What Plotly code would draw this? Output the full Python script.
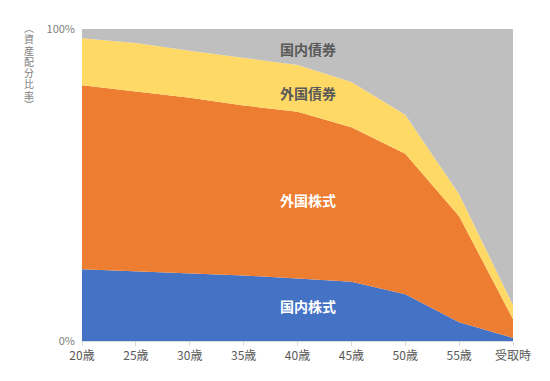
import plotly.graph_objects as go

categories = ["20歳", "25歳", "30歳", "35歳", "40歳", "45歳", "50歳", "55歳", "受取時"]
domestic_stock = [23, 22.3, 21.5, 21, 20, 19, 15, 6, 1]
foreign_stock = [59, 57.7, 56.5, 54.5, 53.5, 49.5, 45, 34, 6]
foreign_bond = [15, 15.5, 15, 15.2, 15, 14.5, 12.5, 7, 4.5]
domestic_bond = [3, 4.5, 7, 9.3, 11.5, 17, 27.5, 53, 88.5]
y_title_chars = ["︵", "資", "産", "配", "分", "比", "率", "︶"]

series = [
    ("国内株式", domestic_stock, "#4472C4"),
    ("外国株式", foreign_stock, "#ED7D31"),
    ("外国債券", foreign_bond, "#FFD966"),
    ("国内債券", domestic_bond, "#BFBFBF"),
]

FONT = "Noto Sans CJK JP"

# page has an 8px body margin; compensate
W, H = 542, 373
ML, MR, MT, MB = 74, 37, 15, 40
PH = H - MT - MB

fig = go.Figure()
for name, vals, color in series:
    fig.add_trace(go.Scatter(
        x=categories, y=vals, name=name, mode="lines",
        stackgroup="one", line=dict(width=0, color=color),
        fillcolor=color, hoverinfo="x+y+name",
    ))

labels = [
    ("国内債券", 93.6, "#595959"),
    ("外国債券", 79.5, "#595959"),
    ("外国株式", 45.3, "#FFFFFF"),
    ("国内株式", 11.3, "#FFFFFF"),
]
for text, y, color in labels:
    fig.add_annotation(x=4.2, y=y, xref="x", yref="y", text=f"<b>{text}</b>",
                       showarrow=False, font=dict(family=FONT, size=14, color=color))

# vertical (upright) y-axis title, one glyph per annotation
centers_px = [21, 33, 44.5, 56, 67.5, 79, 90.5, 100]
for ch, cy in zip(y_title_chars, centers_px):
    fy = cy - 8
    fig.add_annotation(
        x=(21 - ML) / (W - ML - MR), y=(H - MB - fy) / PH,
        xref="paper", yref="paper", text=ch, showarrow=False,
        font=dict(family=FONT, size=10, color="#808080"),
        xanchor="center", yanchor="middle", height=11,
    )

fig.update_layout(
    width=W, height=H,
    margin=dict(l=ML, r=MR, t=MT, b=MB),
    paper_bgcolor="white", plot_bgcolor="white",
    showlegend=False,
    font=dict(family=FONT, size=11, color="#595959"),
    xaxis=dict(
        type="category", range=[0, 8], showgrid=False,
        showline=True, linecolor="#D9D9D9", linewidth=1,
        ticks="outside", ticklen=4, tickcolor="#D9D9D9",
        tickfont=dict(size=12, color="#595959"),
    ),
    yaxis=dict(
        range=[0, 100], tickvals=[0, 100], ticktext=["0%", "100%"],
        showgrid=True, gridcolor="#9DB3DC", gridwidth=1, zeroline=False,
        tickfont=dict(size=11, color="#7F7F7F"), ticklabelstandoff=6,
    ),
)

fig.write_html("out.html")
